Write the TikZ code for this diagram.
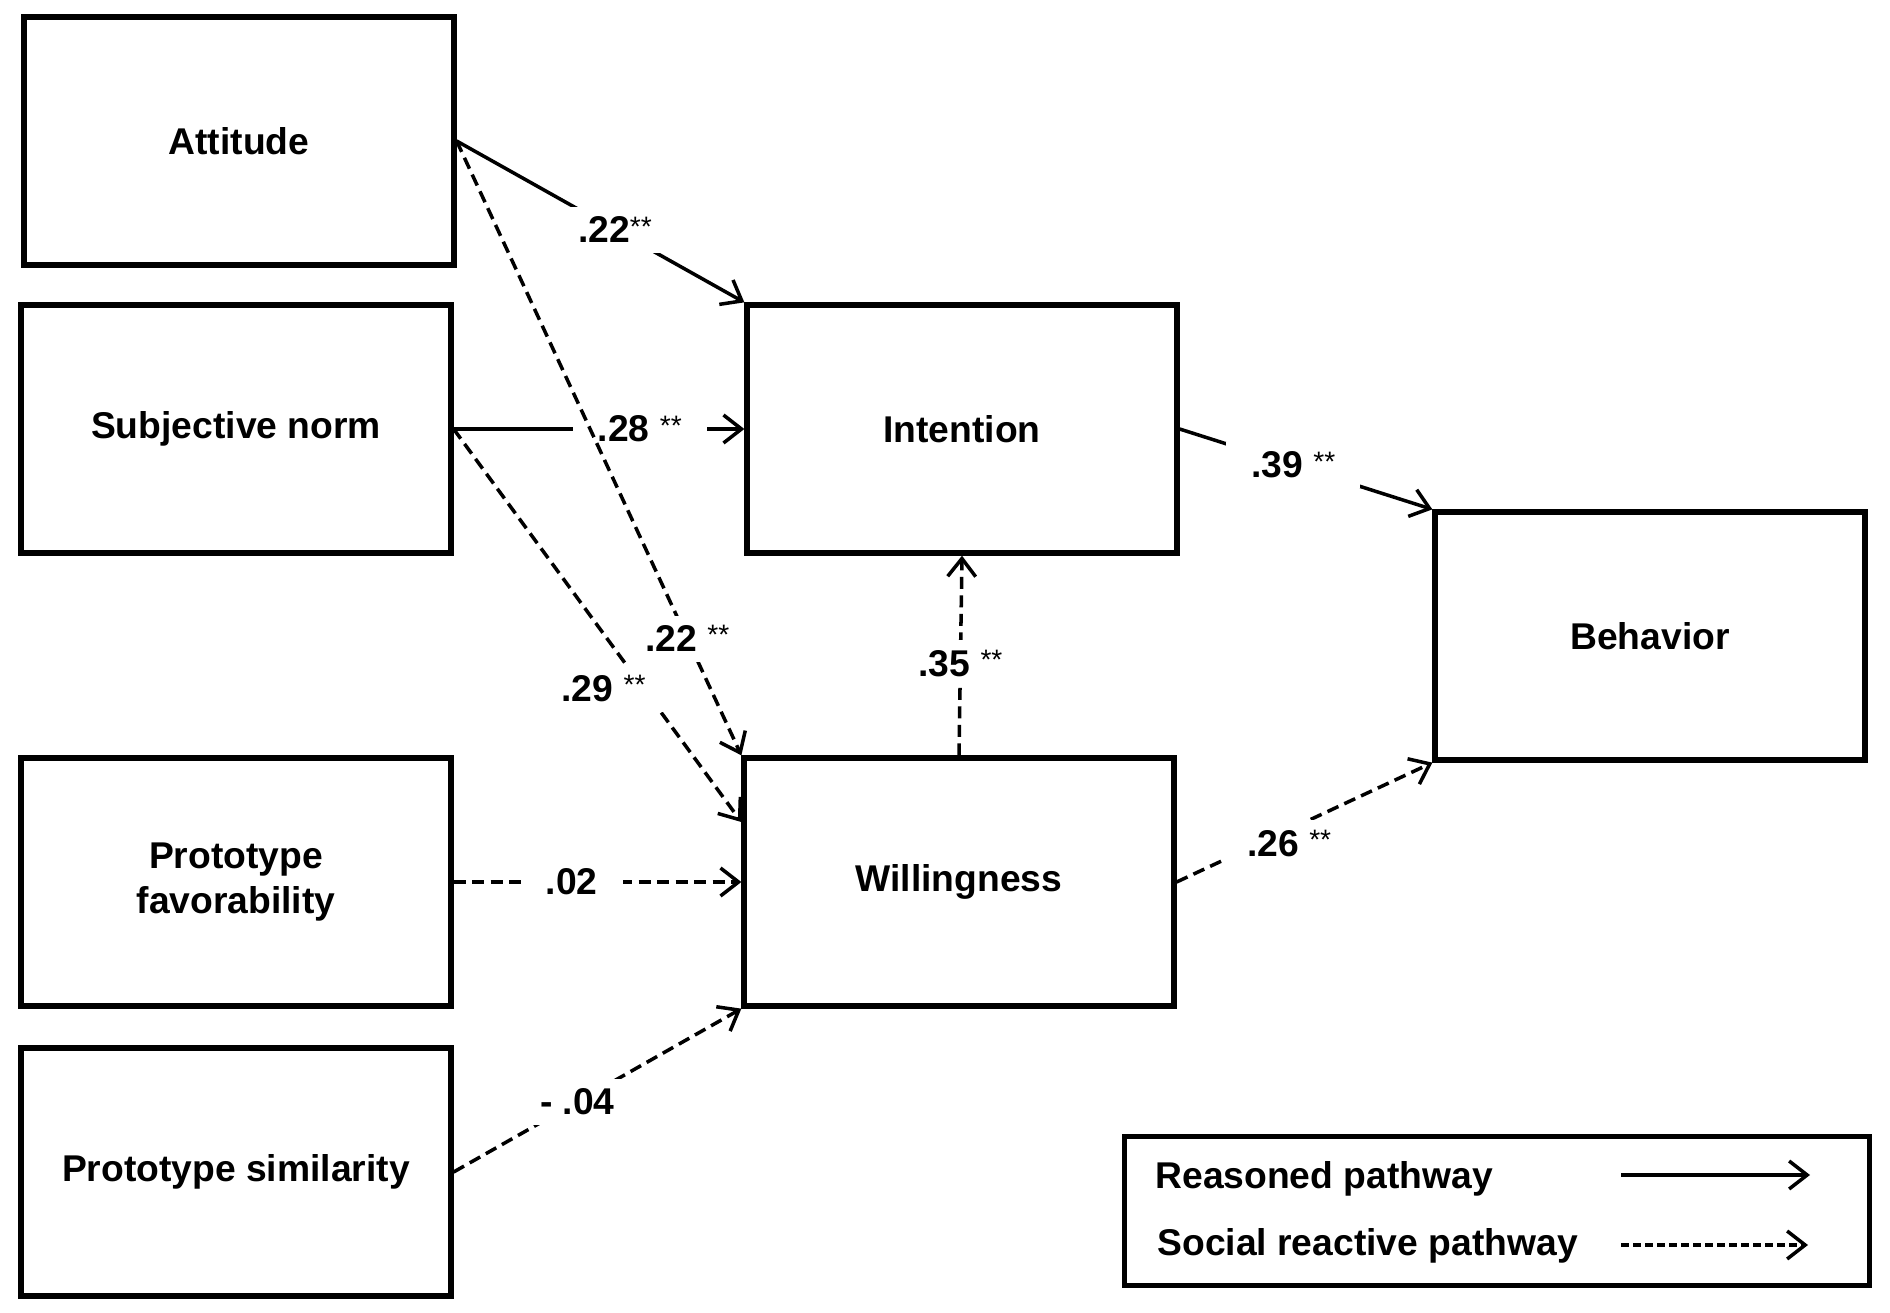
\documentclass[tikz,border=0pt]{standalone}
\usepackage{fontspec}
\setmainfont{Liberation Sans}
\usetikzlibrary{arrows.meta}
\newcommand{\boxfont}{\fontsize{10.6}{13}\selectfont\bfseries}
\newcommand{\sig}{{\mdseries\footnotesize\raisebox{0.45ex}{**}}}
\tikzset{
  box/.style={rectangle, draw=black, line width=1.5pt,
    minimum width=4.3cm, minimum height=2.48cm,
    align=center, font=\boxfont},
  legendbox/.style={rectangle, draw=black, line width=1.5pt,
    minimum width=7.45cm, minimum height=1.49cm},
  reasoned/.style={-{Straight Barb[length=1.8mm, width=2.8mm]}, line width=1pt},
  reactive/.style={reasoned, dash pattern=on 1.2mm off 0.65mm},
  coef/.style={fill=white, inner xsep=2.5mm, inner ysep=1mm, font=\boxfont},
  legtext/.style={anchor=west, font=\boxfont}
}

\begin{document}
\begin{tikzpicture}
  \useasboundingbox[fill=white] (0,0) rectangle (18.9,13.12);

  % Predictors (left column)
  \node[box] (att) at (2.39, 11.71) {Attitude};
  \node[box] (sub) at (2.36, 8.83) {Subjective norm};
  \node[box] (fav) at (2.36, 4.30) {Prototype\\favorability};
  \node[box] (sim) at (2.36, 1.40) {Prototype similarity};

  % Mediators and outcome
  \node[box] (int) at (9.62, 8.83) {Intention};
  \node[box] (will) at (9.59, 4.30) {Willingness};
  \node[box] (beh) at (16.50, 6.76) {Behavior};

  % Reasoned pathway
  \draw[reasoned] (att.east) -- node[coef, pos=0.55] {.22\sig} (int.north west);
  \draw[reasoned] (sub.east) -- node[coef, pos=0.64] {.28 \sig} (int.west);
  \draw[reasoned] (int.east) -- node[coef, pos=0.45] {.39 \sig} (beh.north west);

  % Social reactive pathway
  \draw[reactive] (att.east) -- node[coef, pos=0.81] {.22 \sig} (will.north west);
  \draw[reactive] (sub.east) -- node[coef, pos=0.66, xshift=-4mm] {.29 \sig} ([yshift=6mm]will.west);
  \draw[reactive] (fav.east) -- node[coef, pos=0.41] {.02} (will.west);
  \draw[reactive] (sim.east) -- node[coef, pos=0.43] {- .04} (will.south west);
  \draw[reactive] (will.north) -- node[coef, pos=0.46] {.35 \sig} (int.south);
  \draw[reactive] (will.east) -- node[coef, pos=0.44, yshift=-1.4mm] {.26 \sig} (beh.south west);

  % Legend
  \node[legendbox] (legend) at (14.97, 1.01) {};
  \node[legtext] (lreas) at (11.43, 1.33) {Reasoned pathway};
  \node[legtext] (lreac) at (11.45, 0.66) {Social reactive pathway};
  \coordinate (rs) at (16.21, 1.37);
  \coordinate (re) at (18.10, 1.37);
  \coordinate (ds) at (16.21, 0.67);
  \coordinate (de) at (18.08, 0.67);
  \draw[reasoned] (rs) -- (re);
  \draw[reactive, dash pattern=on 0.8mm off 0.4mm] (ds) -- (de);
\end{tikzpicture}
\end{document}
